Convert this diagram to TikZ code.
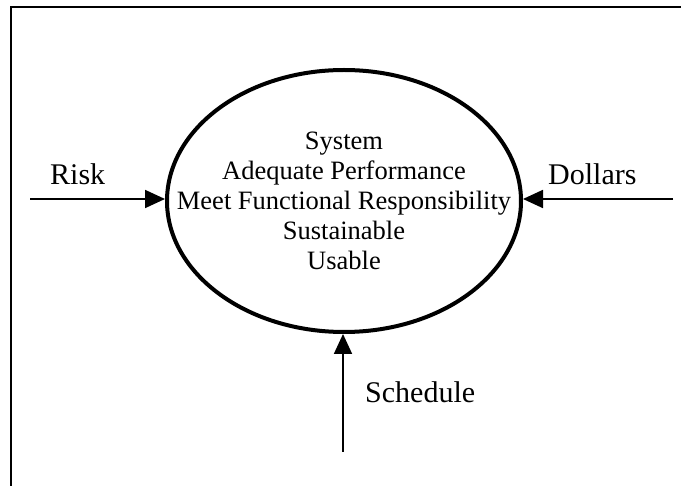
\documentclass[tikz,border=0pt]{standalone}
\usepackage{fontspec}
\setmainfont{Liberation Serif}
\usetikzlibrary{arrows.meta,shapes.geometric,positioning}

\begin{document}
\begin{tikzpicture}[x=1pt,y=-1pt,
    flow/.style={line width=1.8pt,-{Triangle[length=20pt,width=18pt]}},
    lbl/.style={anchor=base west,inner sep=0pt,font=\fontsize{30}{36}\selectfont}]
  \useasboundingbox (0,0) rectangle (681,486);
  \draw[line width=2.6pt] (11,486) -- (11,7) -- (681,7);
  % the system and what it has to be
  \node (sys) [ellipse,draw,line width=4pt,minimum width=354pt,minimum height=262pt] at (344,201) {};
  \node (goals) [align=center,inner sep=0pt,font=\fontsize{26.5}{30}\selectfont] at (sys.center)
    {System\\Adequate Performance\\Meet Functional Responsibility\\Sustainable\\Usable};
  % inputs
  \coordinate (riskin) at (30,199);
  \coordinate (dollarsin) at (673,199);
  \coordinate (schedin) at (343,452);
  \draw[flow] (riskin) -- (riskin -| sys.west);
  \draw[flow] (dollarsin) -- (dollarsin -| sys.east);
  \draw[flow] (schedin) -- (schedin |- sys.south);
  \node (risk) [lbl] at (50,185) {Risk};
  \node (dollars) [lbl] at (548,185) {Dollars};
  \node (sched) [lbl] at (365,403) {Schedule};
\end{tikzpicture}
\end{document}
